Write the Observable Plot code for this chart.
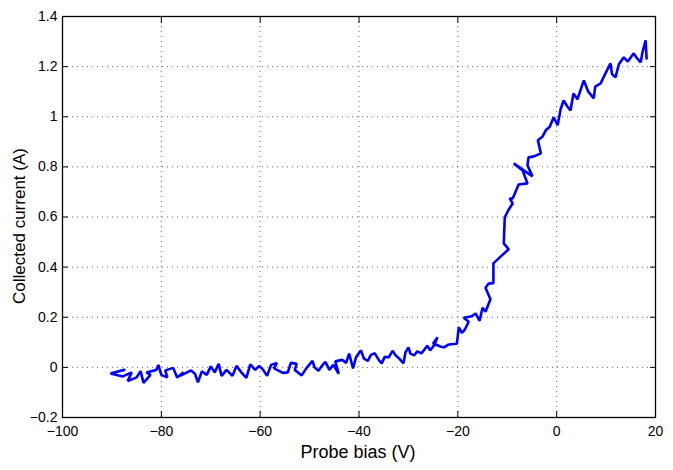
<!DOCTYPE html>
<html>
<head>
<meta charset="utf-8">
<script src="https://cdn.jsdelivr.net/npm/d3@7"></script>
<script src="https://cdn.jsdelivr.net/npm/@observablehq/plot@0.6"></script>
<style>
  html, body { margin: 0; padding: 0; background: #fff; }
  #chart { position: relative; width: 673px; height: 470px; }
</style>
</head>
<body>
<div id="chart"></div>
<script>
const xLabel = "Probe bias (V)";
const yLabel = "Collected current (A)";
const xTicks = [-100, -80, -60, -40, -20, 0, 20];
const yTicks = [-0.2, 0, 0.2, 0.4, 0.6, 0.8, 1, 1.2, 1.4];

// [probe bias (V), collected current (A)] in sweep order
const samples = [
  [-87.5, -0.010], [-90.3, -0.024], [-87.8, -0.036], [-86.0, -0.020], [-86.8, -0.055],
  [-85.0, -0.040], [-84.2, -0.015], [-83.6, -0.062], [-82.2, -0.030], [-83.0, -0.020],
  [-81.0, -0.010], [-80.6, 0.010], [-80.0, -0.030], [-78.8, -0.040], [-79.2, -0.012],
  [-77.6, -0.002], [-76.8, -0.040], [-75.5, -0.020], [-76.2, -0.034], [-74.0, -0.012],
  [-73.2, -0.025], [-72.6, -0.060], [-71.8, -0.016], [-70.8, -0.030], [-70.0, 0.004],
  [-69.2, -0.020], [-68.4, 0.014], [-67.8, -0.034], [-66.8, -0.010], [-65.6, -0.034],
  [-64.8, 0.006], [-63.8, -0.020], [-62.8, -0.042], [-62.0, 0.012], [-61.0, -0.010],
  [-60.2, 0.006], [-59.4, -0.010], [-58.6, -0.034], [-57.8, 0.010], [-56.6, 0.018],
  [-57.2, -0.004], [-55.4, -0.022], [-54.4, -0.020], [-53.8, 0.018], [-52.6, 0.014],
  [-53.0, -0.010], [-51.6, -0.032], [-50.6, -0.002], [-49.4, 0.026], [-49.0, 0.000],
  [-48.2, -0.014], [-47.6, 0.004], [-46.8, 0.022], [-46.0, -0.010], [-45.2, 0.010],
  [-44.1, -0.026], [-44.8, 0.024], [-43.4, 0.030], [-42.6, 0.018], [-42.0, 0.055],
  [-41.2, -0.004], [-40.6, 0.040], [-39.6, 0.068], [-39.0, 0.035], [-38.2, 0.026],
  [-37.6, 0.050], [-36.8, 0.056], [-36.0, 0.030], [-35.4, 0.016], [-34.8, 0.042],
  [-34.0, 0.040], [-33.2, 0.066], [-32.6, 0.048], [-31.8, 0.034], [-31.0, 0.016],
  [-30.6, 0.060], [-30.0, 0.080], [-29.6, 0.055], [-28.8, 0.048], [-28.2, 0.064],
  [-27.4, 0.056], [-26.8, 0.070], [-26.2, 0.086], [-25.6, 0.068], [-24.8, 0.088],
  [-24.1, 0.120], [-25.0, 0.095], [-23.4, 0.082], [-22.8, 0.080], [-22.0, 0.090],
  [-21.4, 0.092], [-20.2, 0.094], [-19.8, 0.160], [-19.2, 0.138], [-18.6, 0.150],
  [-17.8, 0.182], [-18.8, 0.198], [-17.2, 0.204], [-16.4, 0.215], [-15.6, 0.186],
  [-15.0, 0.238], [-14.4, 0.222], [-13.4, 0.272], [-14.4, 0.318], [-13.8, 0.334],
  [-12.8, 0.336], [-12.8, 0.415], [-11.3, 0.443], [-9.7, 0.471], [-10.7, 0.495],
  [-10.5, 0.599], [-9.7, 0.630], [-8.9, 0.654], [-9.5, 0.674], [-8.9, 0.674],
  [-7.7, 0.730], [-5.9, 0.734], [-6.9, 0.786], [-8.7, 0.814], [-4.9, 0.762],
  [-5.9, 0.806], [-5.7, 0.838], [-4.6, 0.842], [-3.2, 0.854], [-3.8, 0.906],
  [-2.9, 0.920], [-2.2, 0.946], [-1.4, 0.960], [-0.6, 0.998], [0.2, 0.966],
  [0.8, 1.030], [1.4, 1.065], [2.2, 1.040], [2.8, 1.025], [3.4, 1.093],
  [4.2, 1.070], [5.5, 1.145], [6.4, 1.100], [7.5, 1.073], [7.8, 1.120],
  [8.9, 1.133], [9.8, 1.170], [10.9, 1.213], [11.2, 1.170], [11.9, 1.157],
  [12.6, 1.210], [13.6, 1.237], [14.4, 1.220], [15.6, 1.253], [16.2, 1.235],
  [17.0, 1.217], [17.4, 1.260], [18.0, 1.305], [18.2, 1.233]
];

const data = samples.map(([b, c]) => ({bias: b, current: c}));
const fmt = d => String(+d.toFixed(1)).replace("-", "\u2212");

const plot = Plot.plot({
  width: 673,
  height: 470,
  marginLeft: 62,
  marginRight: 18,
  marginTop: 16,
  marginBottom: 53,
  style: {fontFamily: "'Liberation Sans', Arial, sans-serif", fontSize: "14px", color: "#000", background: "#fff"},
  x: {domain: [-100, 20], label: null},
  y: {domain: [-0.2, 1.4], label: null},
  marks: [
    Plot.gridX(xTicks.slice(1, -1), {stroke: "#000", strokeOpacity: 0.6, strokeDasharray: "1,4"}),
    Plot.gridY(yTicks.slice(1, -1), {stroke: "#000", strokeOpacity: 0.6, strokeDasharray: "1,4"}),
    Plot.line(data, {x: "bias", y: "current", stroke: "#0000ff", strokeWidth: 2.6, strokeLinejoin: "miter", curve: "linear"}),
    Plot.axisX(xTicks, {anchor: "bottom", tickSize: 0, tickPadding: 9, tickFormat: fmt, fontSize: 14}),
    Plot.axisY(yTicks, {anchor: "left", tickSize: 0, tickPadding: 5, tickFormat: fmt, fontSize: 14}),
    Plot.axisX(xTicks, {anchor: "bottom", tickSize: -6, text: null}),
    Plot.axisX(xTicks, {anchor: "top", tickSize: -6, text: null}),
    Plot.axisY(yTicks, {anchor: "left", tickSize: -6, text: null}),
    Plot.axisY(yTicks, {anchor: "right", tickSize: -6, text: null}),
    Plot.frame({stroke: "#000", strokeWidth: 1.3})
  ]
});

document.getElementById("chart").appendChild(plot);

const svg = d3.select(plot);
svg.append("text")
  .attr("x", 358).attr("y", 458)
  .attr("text-anchor", "middle")
  .attr("font-family", "'Liberation Sans', Arial, sans-serif")
  .attr("font-size", 18)
  .attr("fill", "#000")
  .text(xLabel);
svg.append("text")
  .attr("transform", "translate(25,226) rotate(-90)")
  .attr("text-anchor", "middle")
  .attr("font-family", "'Liberation Sans', Arial, sans-serif")
  .attr("font-size", 17)
  .attr("fill", "#000")
  .text(yLabel);
</script>
</body>
</html>
